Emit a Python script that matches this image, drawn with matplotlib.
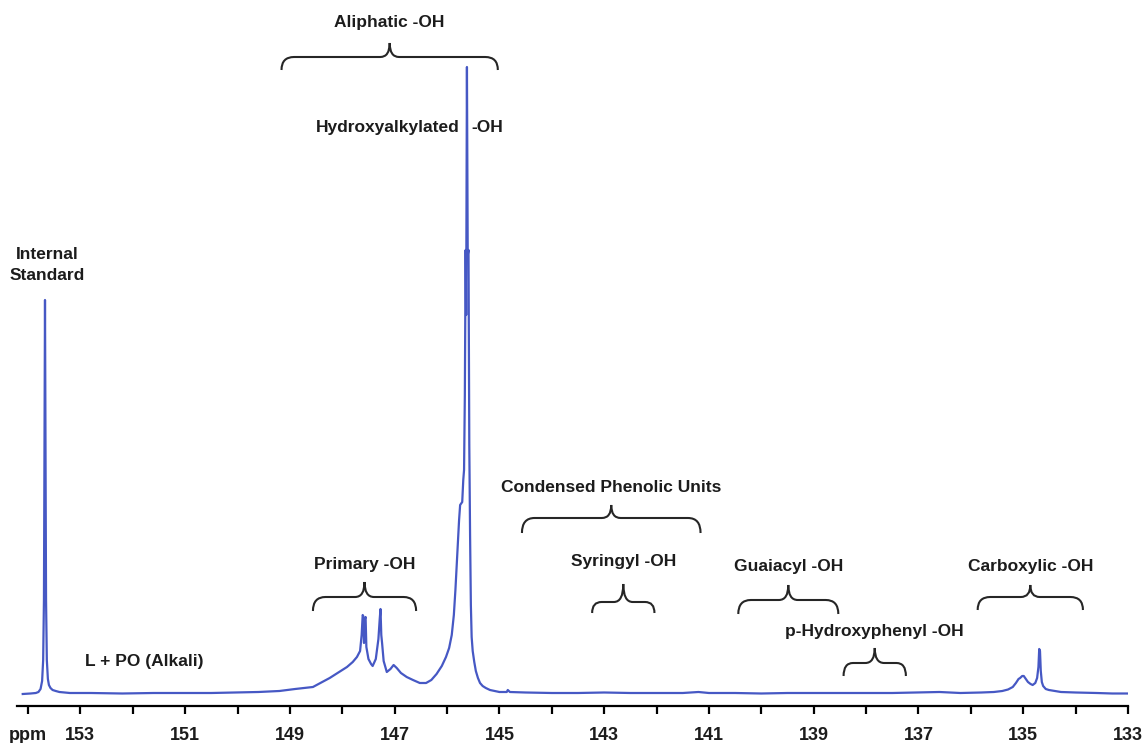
import numpy as np
import matplotlib
matplotlib.use("Agg")
import matplotlib.pyplot as plt
from matplotlib.path import Path
from matplotlib.patches import PathPatch

# traced 31P NMR spectrum, chemical shift (ppm) and intensity (a.u.)
ppm = [154.10, 153.95, 153.85, 153.80, 153.76, 153.73, 153.71, 153.695, 153.685, 153.675,
       153.665, 153.655, 153.64, 153.62, 153.60, 153.57, 153.53, 153.47, 153.40, 153.20,
       152.80, 152.20, 151.60, 151.00, 150.50, 150.00, 149.60, 149.20, 148.90, 148.56,
       148.24, 147.91, 147.80, 147.72, 147.66, 147.63, 147.61, 147.60, 147.585, 147.57,
       147.555, 147.54, 147.50, 147.45, 147.42, 147.36, 147.31, 147.285, 147.27, 147.255,
       147.24, 147.21, 147.15, 147.08, 147.02, 146.96, 146.88, 146.77, 146.65, 146.52,
       146.40, 146.30, 146.20, 146.10, 146.02, 145.96, 145.91, 145.87, 145.84, 145.81,
       145.77, 145.75, 145.71, 145.69, 145.675, 145.66, 145.645, 145.635, 145.62, 145.605,
       145.59, 145.575, 145.56, 145.545, 145.53, 145.51, 145.48, 145.45, 145.41, 145.37,
       145.32, 145.26, 145.18, 145.00, 144.86, 144.84, 144.80, 144.50, 144.00, 143.50,
       143.00, 142.50, 142.00, 141.50, 141.20, 141.00, 140.50, 140.00, 139.50, 139.00,
       138.50, 138.00, 137.50, 137.00, 136.60, 136.20, 135.80, 135.56, 135.40, 135.29,
       135.20, 135.14, 135.09, 135.06, 135.02, 134.99, 134.95, 134.91, 134.86, 134.82,
       134.77, 134.735, 134.71, 134.695, 134.68, 134.665, 134.645, 134.62, 134.57, 134.51,
       134.40, 134.28, 134.00, 133.60, 133.30, 133.02]
intensity = [1, 1.5, 2, 3, 6, 14, 35, 95, 240, 395,
             240, 95, 35, 16, 10, 7, 5, 4, 3, 2,
             2, 1.5, 2, 2, 2, 2.5, 3, 4, 6, 8,
             17, 28, 33, 38, 44, 60, 80, 79, 52, 76,
             78, 48, 36, 31, 29, 36, 56, 76, 86, 60,
             52, 34, 23, 26, 30, 27, 22, 18, 15, 12,
             12, 15, 21, 29, 38, 47, 60, 80, 105, 135,
             175, 190, 193, 215, 225, 300, 445, 380, 628, 440,
             445, 250, 160, 90, 58, 44, 33, 24, 17, 12,
             9, 7, 5, 3, 3, 5, 3, 2.5, 2, 2,
             2.5, 2, 2, 2, 3, 2, 2, 1.5, 2, 2,
             2, 2, 2, 2.5, 3, 2, 2.5, 3, 4, 5.5,
             8, 12, 16, 17, 19, 19, 16, 13, 11, 10,
             12, 17, 28, 46, 44, 24, 13, 9, 6, 5,
             4, 3, 2.5, 2, 1.5, 1.5]

# braces: label, left ppm, right ppm, end / flat / tip heights, label height
brace_labels = ["Aliphatic -OH", "Primary -OH", "Condensed Phenolic Units", "Syringyl -OH",
                "Guaiacyl -OH", "p-Hydroxyphenyl -OH", "Carboxylic -OH"]
brace_left = [149.16, 148.56, 144.57, 143.23, 140.44, 138.43, 135.87]
brace_right = [145.03, 146.59, 141.16, 142.04, 138.53, 137.24, 133.86]
brace_end = [625, 84, 162, 82, 81, 19, 85]
brace_flat = [638, 98, 177, 93, 95, 32, 98]
brace_tip = [652, 113, 190, 111, 110, 47, 110]
label_y = [672, 130, 207, 133, 128, 63, 128]

line_col = "#4658c4"
txt_col = "#1c1c1c"
font = "Liberation Sans"

fig = plt.figure(figsize=(11.48, 7.43), dpi=100)
ax = fig.add_axes([0.01524, 0.0498, 0.96734, 0.9502])
ax.plot(ppm, intensity, color=line_col, lw=1.6)
ax.set_xlim(154.2, 133)
ax.set_ylim(-11, 695)

for s in ["left", "right", "top"]:
    ax.spines[s].set_visible(False)
ax.spines["bottom"].set_linewidth(1.6)
ax.set_yticks([])
ticks = list(range(133, 155))
labels = []
for t in ticks:
    if t == 154:
        labels.append("ppm")
    elif t % 2 == 1:
        labels.append(str(t))
    else:
        labels.append("")
ax.set_xticks(ticks)
ax.set_xticklabels(labels, fontfamily=font, fontweight="bold", fontsize=13, color=txt_col)
ax.tick_params(axis="x", direction="out", length=6, width=1.6, pad=9)


def brace(x0, x1, y_end, y_flat, y_tip):
    xm = (x0 + x1) / 2
    r = 0.24 if abs(x1 - x0) > 1.5 else 0.18
    r2 = 0.18
    d = 1 if x1 > x0 else -1
    verts = [(x0, y_end), (x0, y_flat), (x0 + d * r, y_flat),
             (xm - d * r2, y_flat),
             (xm, y_flat), (xm, y_tip),
             (xm, y_flat), (xm + d * r2, y_flat),
             (x1 - d * r, y_flat),
             (x1, y_flat), (x1, y_end)]
    codes = [Path.MOVETO, Path.CURVE3, Path.CURVE3,
             Path.LINETO,
             Path.CURVE3, Path.CURVE3,
             Path.CURVE3, Path.CURVE3,
             Path.LINETO,
             Path.CURVE3, Path.CURVE3]
    ax.add_patch(PathPatch(Path(verts, codes), fill=False, ec="#262626", lw=1.5))
    return xm


for lab, x0, x1, ye, yf, yt, ly in zip(brace_labels, brace_left, brace_right,
                                        brace_end, brace_flat, brace_tip, label_y):
    xm = brace(x0, x1, ye, yf, yt)
    ax.text(xm, ly, lab, ha="center", va="center", fontfamily=font,
            fontweight="bold", fontsize=12.5, color=txt_col)

ax.text(145.76, 567, "Hydroxyalkylated", ha="right", va="center", fontfamily=font,
        fontweight="bold", fontsize=12.5, color=txt_col)
ax.text(145.53, 567, "-OH", ha="left", va="center", fontfamily=font,
        fontweight="bold", fontsize=12.5, color=txt_col)
ax.text(153.63, 430, "Internal\nStandard", ha="center", va="center", fontfamily=font,
        fontweight="bold", fontsize=12.5, color=txt_col, linespacing=1.5)
ax.text(152.92, 33, "L + PO (Alkali)", ha="left", va="center", fontfamily=font,
        fontweight="bold", fontsize=12.5, color=txt_col)

fig.savefig("out.png", dpi=100)
